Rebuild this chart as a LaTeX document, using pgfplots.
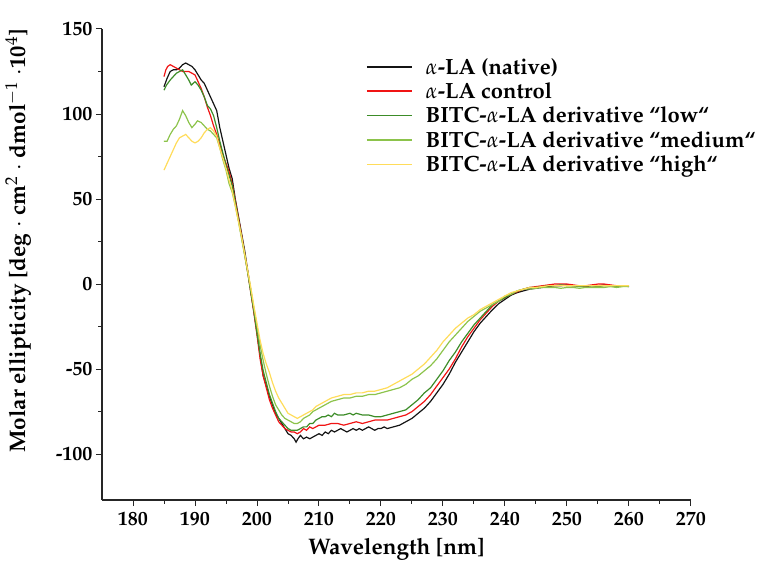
\documentclass[border=0pt]{standalone}
\usepackage[T1]{fontenc}
\usepackage{mathpazo}
\usepackage{pgfplots}
\pgfplotsset{compat=1.18}
\definecolor{cnative}{RGB}{20,20,20}
\definecolor{ccontrol}{RGB}{240,20,20}
\definecolor{clow}{RGB}{60,140,40}
\definecolor{cmed}{RGB}{140,195,75}
\definecolor{chigh}{RGB}{255,220,90}
\begin{document}
\begin{tikzpicture}
\begin{axis}[
  scale only axis, width=589bp, height=471bp,
  xmin=175, xmax=270, ymin=-127, ymax=150,
  axis lines*=left,
  axis line style={line width=1.1pt, black!85},
  tick align=outside,
  tick style={line width=1pt, black!85},
  major tick length=6bp, minor tick length=3.5bp,
  xtick={180,190,...,270}, ytick={-100,-50,...,150},
  minor x tick num=1, minor y tick num=1,
  /pgf/number format/assume math mode=true,
  /pgf/number format/1000 sep={},
  ticklabel style={font=\bfseries\fontsize{20bp}{24bp}\selectfont},
  xticklabel style={yshift=-3bp},
  xlabel={Wavelength [nm]},
  ylabel={Molar ellipticity [deg $\cdot$ cm$^2$ $\cdot$ dmol$^{-1}$ $\cdot$10$^4$]},
  label style={font=\bfseries\fontsize{22.5bp}{26bp}\selectfont},
  xlabel style={at={(axis description cs:0.5,0)}, anchor=center, yshift=-49bp},
  ylabel style={at={(axis description cs:0,0.55)}, anchor=center, yshift=84bp},
  legend style={draw=none, fill=none, at={(0.443,0.947)}, anchor=north west,
    font=\bfseries\fontsize{22bp}{26bp}\selectfont, row sep=3bp,
    /tikz/every odd column/.append style={column sep=11bp}},
  legend cell align=left,
  legend image code/.code={\draw[#1,line width=1.6pt] (0bp,0bp) -- (45bp,0bp);},
  every axis plot/.append style={line width=1.2pt},
]
\coordinate (O) at (rel axis cs:0,0);
\addplot[color=cnative] coordinates {
(185,116)(185.5,121)(186,125)(186.5,126)(187,126)(187.5,127)(188,129)(188.5,130)(189,129)(189.5,128)
(190,126)(190.5,123)(191,120)(191.5,118)(192,114)(192.5,110)(193,106)(193.5,102)(194,92)(194.5,84)
(195,76)(195.5,68)(196,62)(196.5,50)(197,40)(197.5,30)(198,20)(198.5,8)(199,-4)(199.5,-16)
(200,-28)(200.5,-42)(201,-54)(201.5,-60)(202,-66)(202.5,-71)(203,-76)(203.5,-79)(204,-82)(204.5,-85)
(205,-88)(205.5,-89)(206,-91)(206.3,-93)(206.6,-91)(207,-89)(207.5,-91)(208,-90)(208.5,-91)(209,-90)
(209.5,-89)(210,-88)(210.5,-89)(211,-87)(211.5,-88)(212,-86)(212.5,-87)(213,-86)(213.5,-85)(214,-86)
(214.5,-87)(215,-86)(215.5,-85)(216,-86)(216.5,-85)(217,-86)(217.5,-85)(218,-84)(218.5,-85)(219,-86)
(219.5,-85)(220,-85)(220.5,-84)(221,-85)(222,-84)(223,-83)(224,-81)(225,-79)(226,-76)(227,-73)
(228,-69)(229,-64)(230,-59)(231,-53)(232,-46)(233,-40)(234,-34)(235,-28)(236,-23)(237,-19)
(238,-15)(239,-11.5)(240,-9)(241,-6.5)(242,-5)(243,-4)(244,-3)(245,-2.5)(246,-2)(247,-1.5)
(248,-1)(249,-1)(250,-0.5)(251,-1)(252,-1)(253,-1.5)(254,-1)(255,-1)(256,-0.5)(257,-1)
(258,-1.5)(259,-1)(260,-1.5)
};
\addlegendentry{$\alpha$-LA (native)}
\addplot[color=ccontrol] coordinates {
(185,122)(185.3,126)(185.6,128)(186,129)(186.5,128)(187,127)(187.5,126)(188,125)(188.5,125)(189,125)
(189.5,124)(190,123)(190.5,119)(191,115)(191.5,110)(192,104)(192.5,99)(193,93)(193.5,88)(194,82)
(194.5,76)(195,71)(195.5,66)(196,59)(196.5,49)(197,39)(197.5,29)(198,18)(198.5,7)(199,-5)
(199.5,-17)(200,-30)(200.5,-44)(201,-54)(201.5,-61)(202,-68)(202.5,-73)(203,-77)(203.5,-81)(204,-83)
(204.5,-85)(205,-86)(205.5,-87)(206,-87)(206.5,-88)(207,-87)(207.5,-85)(208,-86)(208.5,-84)(209,-85)
(209.5,-84)(210,-83)(211,-83)(212,-82)(213,-82)(214,-83)(215,-82)(216,-81)(217,-82)(218,-81)
(219,-80)(220,-80)(221,-80)(222,-79)(223,-78)(224,-77)(225,-75)(226,-72)(227,-69)(228,-65)
(229,-60)(230,-55)(231,-50)(232,-44)(233,-37)(234,-31)(235,-26)(236,-21)(237,-17)(238,-13)
(239,-10)(240,-8)(241,-6)(242,-4.5)(243,-3)(244,-2)(245,-1.5)(246,-1)(247,-0.5)(248,0)
(249,0)(250,0)(251,-0.5)(252,-1)(253,-1)(254,-0.5)(255,0)(256,0)(257,-0.5)(258,-1)
(259,-1)(260,-1)
};
\addlegendentry{$\alpha$-LA control}
\addplot[color=clow] coordinates {
(185,114)(185.4,117)(186,120)(186.5,122)(187,124)(187.5,125)(188,126)(188.5,123)(189,120)(189.4,117)
(190,119)(190.5,117)(191,114)(191.5,110)(192,105)(192.5,103)(193,99)(193.5,92)(194,84)(194.5,77)
(195,70)(195.5,64)(196,58)(196.5,48)(197,38)(197.5,28)(198,18)(198.5,7)(199,-5)(199.5,-16)
(200,-29)(200.5,-41)(201,-51)(201.5,-58)(202,-65)(202.5,-70)(203,-75)(203.5,-79)(204,-81)(204.5,-83)
(205,-85)(205.5,-86)(206,-86)(206.5,-86)(207,-85)(207.5,-84)(208,-84)(208.5,-82)(209,-82)(209.5,-80)
(210,-79)(210.5,-78)(211,-78)(211.5,-77)(212,-78)(212.5,-76)(213,-77)(214,-77)(215,-76)(215.5,-77)
(216,-76)(217,-77)(218,-77)(219,-78)(220,-78)(221,-77)(222,-76)(223,-75)(224,-74)(225,-71)
(226,-68)(227,-64)(228,-61)(229,-56)(230,-51)(231,-45)(232,-40)(233,-34)(234,-29)(235,-24)
(236,-20)(237,-16)(238,-12)(239,-10)(240,-8)(241,-6)(242,-4)(243,-3)(244,-2)(245,-2)
(246,-1.5)(247,-1)(248,-1)(249,-0.5)(250,-1)(251,-1)(252,-1.5)(253,-1)(254,-1)(255,-1.5)
(256,-1)(257,-1)(258,-1.5)(259,-1)(260,-1)
};
\addlegendentry{BITC-$\alpha$-LA derivative ``low``}
\addplot[color=cmed] coordinates {
(185,84)(185.5,84)(186,88)(186.5,91)(187,93)(187.5,97)(188,102)(188.5,99)(189,95)(189.5,92)
(190,94)(190.4,96)(191,95)(191.5,93)(192,91)(192.5,90)(193,88)(193.5,86)(194,80)(194.5,73)
(195,67)(195.5,59)(196,54)(196.5,46)(197,37)(197.5,27)(198,17)(198.5,7)(199,-3)(199.5,-14)
(200,-25)(200.5,-36)(201,-45)(201.5,-53)(202,-60)(202.5,-66)(203,-71)(203.5,-74)(204,-77)(204.5,-79)
(205,-80)(205.5,-81)(206,-82)(206.5,-82)(207,-81)(207.5,-79)(208,-78)(208.5,-77)(209,-75)(209.5,-74)
(210,-73)(210.5,-72)(211,-71)(212,-69)(213,-68)(214,-67)(215,-67)(216,-66)(217,-66)(218,-65)
(219,-65)(220,-64)(221,-63)(222,-62)(223,-61)(224,-59)(225,-56)(226,-54)(227,-51)(228,-48)
(229,-44)(230,-39)(231,-34)(232,-30)(233,-26)(234,-22)(235,-19)(236,-16)(237,-14)(238,-12)
(239,-10)(240,-7)(241,-6)(242,-4)(243,-3)(244,-3)(245,-2.5)(246,-2)(247,-2)(248,-2)
(249,-2.5)(250,-2)(251,-2)(252,-2.5)(253,-2)(254,-2)(255,-2)(256,-2)(257,-1.5)(258,-2)
(259,-1.5)(260,-1.5)
};
\addlegendentry{BITC-$\alpha$-LA derivative ``medium``}
\addplot[color=chigh] coordinates {
(185,67)(185.5,71)(186,75)(186.5,79)(187,83)(187.5,86)(188,87)(188.5,88)(189,86)(189.5,84)
(190,83)(190.5,84)(191,86)(191.5,89)(192,91)(192.5,92)(193,90)(193.5,87)(194,80)(194.5,74)
(195,68)(195.5,61)(196,55)(196.5,46)(197,37)(197.5,28)(198,18)(198.5,8)(199,-2)(199.5,-13)
(200,-23)(200.5,-33)(201,-41)(201.5,-47)(202,-52)(202.5,-58)(203,-63)(203.5,-67)(204,-70)(204.5,-73)
(205,-76)(205.5,-77)(206,-78)(206.5,-79)(207,-78)(207.5,-77)(208,-76)(208.5,-75)(209,-74)(209.5,-72)
(210,-71)(210.5,-70)(211,-69)(212,-67)(213,-66)(214,-65)(215,-65)(216,-64)(217,-64)(218,-63)
(219,-63)(220,-62)(221,-61)(222,-59)(223,-57)(224,-55)(225,-53)(226,-50)(227,-47)(228,-43)
(229,-39)(230,-34)(231,-30)(232,-26)(233,-23)(234,-20)(235,-18)(236,-15)(237,-13)(238,-11)
(239,-9)(240,-7)(241,-5)(242,-4)(243,-3)(244,-2)(245,-2)(246,-1.5)(247,-1)(248,-1)
(249,-1)(250,-1)(251,-1)(252,-1)(253,-1)(254,-1)(255,-1)(256,-1)(257,-1)(258,-1)
(259,-1)(260,-1)
};
\addlegendentry{BITC-$\alpha$-LA derivative ``high``}
\end{axis}
\pgfresetboundingbox
\path[use as bounding box] ([shift={(-102bp,-66bp)}]O) rectangle ([shift={(660bp,500bp)}]O);
\end{tikzpicture}
\end{document}
